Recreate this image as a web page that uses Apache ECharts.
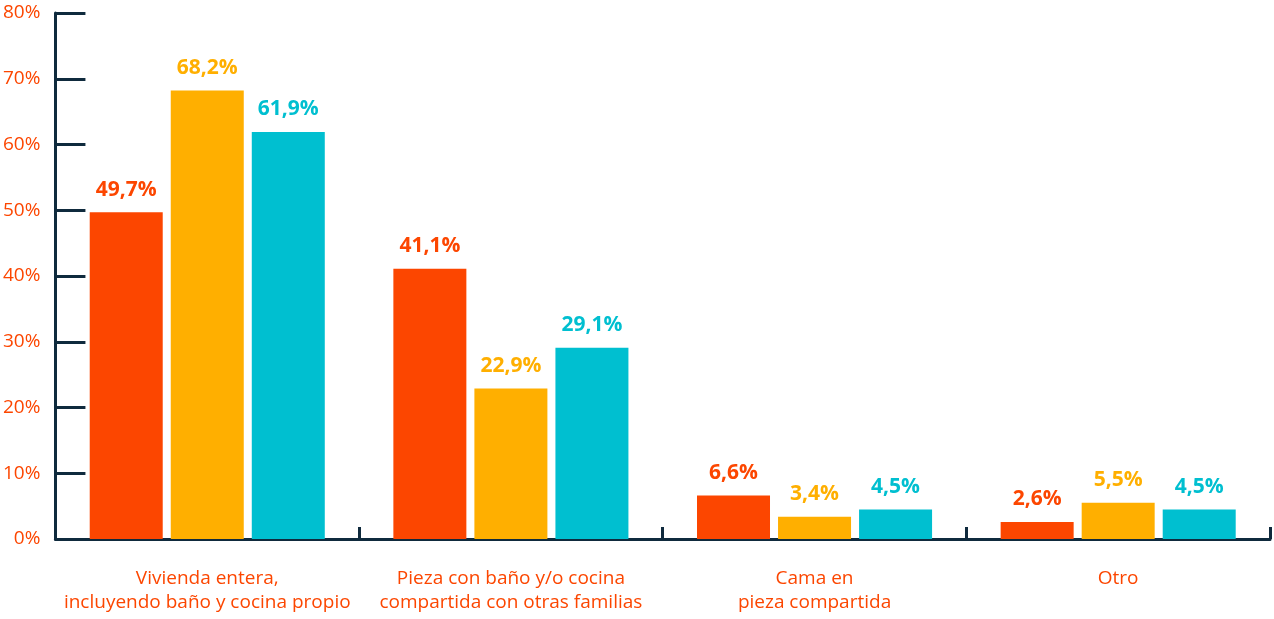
<!DOCTYPE html>
<html>
<head>
<meta charset="utf-8">
<script src="https://cdn.jsdelivr.net/npm/echarts@6/dist/echarts.min.js"></script>
<style>
  html, body { margin: 0; padding: 0; background: #fff; }
  #chart { width: 1274px; height: 619px; }
</style>
</head>
<body>
<div id="chart"></div>
<script>
var categories = [
    'Vivienda entera,\nincluyendo baño y cocina propio',
    'Pieza con baño y/o cocina\ncompartida con otras familias',
    'Cama en\npieza compartida',
    'Otro'
];
var serieRoja = [49.7, 41.1, 6.6, 2.6];
var serieAmarilla = [68.2, 22.9, 3.4, 5.5];
var serieCeleste = [61.9, 29.1, 4.5, 4.5];

var axisColor = '#0f2a3d';
var textColor = '#fc4600';
var font = 'Open Sans';

function makeSeries(name, data, color) {
    return {
        name: name,
        type: 'bar',
        data: data,
        barWidth: 73,
        barGap: '11%',
        itemStyle: {color: color},
        label: {
            show: true,
            position: 'top',
            distance: 12,
            color: color,
            fontFamily: font,
            fontWeight: 'bold',
            fontSize: 21,
            formatter: function (p) {
                return p.value.toFixed(1).replace('.', ',') + '%';
            }
        }
    };
}

var option = {
    animation: false,
    grid: {
        left: 55,
        right: 4,
        top: 13,
        bottom: 80
    },
    xAxis: {
        type: 'category',
        data: categories,
        axisLine: {lineStyle: {color: axisColor, width: 3}},
        axisTick: {
            show: true,
            inside: true,
            interval: 0,
            length: 12,
            lineStyle: {color: axisColor, width: 3}
        },
        axisLabel: {
            interval: 0,
            color: textColor,
            fontFamily: font,
            fontSize: 19,
            lineHeight: 24,
            margin: 28
        }
    },
    yAxis: {
        type: 'value',
        min: 0,
        max: 80,
        interval: 10,
        axisLine: {show: true, lineStyle: {color: axisColor, width: 3}},
        axisTick: {
            show: true,
            inside: true,
            length: 30,
            lineStyle: {color: axisColor, width: 3}
        },
        splitLine: {show: false},
        axisLabel: {
            color: textColor,
            fontFamily: font,
            fontSize: 19,
            margin: 15,
            padding: [5, 0, 0, 0],
            formatter: '{value}%'
        }
    },
    series: [
        makeSeries('Serie 1', serieRoja, '#fc4600'),
        makeSeries('Serie 2', serieAmarilla, '#ffaf00'),
        makeSeries('Serie 3', serieCeleste, '#00bfd0')
    ]
};

var chart = echarts.init(document.getElementById('chart'));
chart.setOption(option);
</script>
</body>
</html>
